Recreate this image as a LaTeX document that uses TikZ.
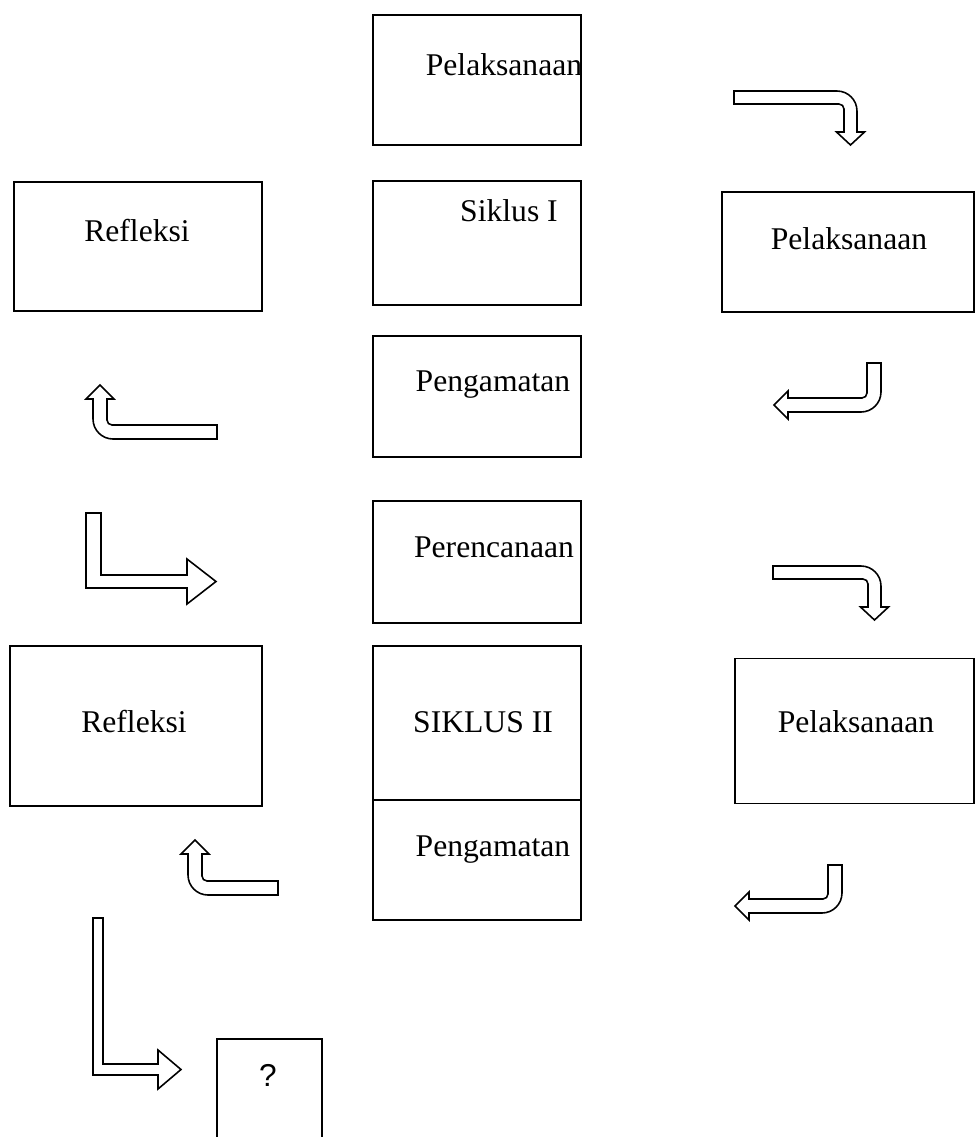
\documentclass[tikz,border=0pt]{standalone}
\usepackage{fontspec}
\setmainfont{Liberation Serif}
\newfontfamily\qfont{Liberation Sans}
\usepackage{tikz}
\usetikzlibrary{positioning}

\begin{document}
\begin{tikzpicture}[x=0.02cm, y=0.02cm,
        box/.style={draw, line width=1pt, fill=white, minimum width=4.16cm, inner sep=0pt},
        lbl/.style={font=\fontsize{18}{20}\selectfont, inner sep=0pt},
        blk/.style={draw, line width=0.9pt, line join=miter, fill=white}
      ]
        \useasboundingbox (0,0) rectangle (980,-1137);
        % cycle I
        \node[box, minimum height=2.6cm] (pelA) at (477,-80) {};
        \node[lbl] (tpelA) at (504,-65) {Pelaksanaan};
        \node[box, minimum width=4.96cm, minimum height=2.58cm] (refA) at (138,-246.5) {};
        \node[lbl] (trefA) at (137,-231) {Refleksi};
        \node[box, minimum height=2.48cm] (sikA) at (477,-243) {};
        \node[lbl] (tsikA) at (509,-211) {Siklus I};
        \node[box, minimum width=5.04cm, minimum height=2.4cm] (pelB) at (848,-252) {};
        \node[lbl] (tpelB) at (849,-239) {Pelaksanaan};
        \node[box, minimum height=2.42cm] (pengA) at (477,-396.5) {};
        \node[lbl] (tpengA) at (493,-385) {Pengamatan};
        \node[box, minimum height=2.44cm] (peren) at (477,-562) {};
        \node[lbl] (tperen) at (494,-547) {Perencanaan};
        % cycle II
        \node[box, minimum width=5.04cm, minimum height=3.2cm] (refB) at (136,-726) {};
        \node[lbl] (trefB) at (134,-722) {Refleksi};
        \node[box, minimum height=3.08cm] (sikB) at (477,-723) {};
        \node[lbl] (tsikB) at (483,-722) {SIKLUS II};
        \node[box, minimum width=4.78cm, minimum height=2.9cm] (pelC) at (854.5,-731) {};
        \node[lbl] (tpelC) at (856,-722) {Pelaksanaan};
        \node[box, minimum height=2.4cm] (pengB) at (477,-860) {};
        \node[lbl] (tpengB) at (493,-850) {Pengamatan};
        \node[box, minimum width=2.1cm, minimum height=2.4cm, anchor=north] (tanya) at (269.5,-1038) {};
        \node[font=\qfont\fontsize{18}{20}\selectfont, inner sep=0pt] (ttanya) at (268,-1075) {?};
        % block arrows
        \draw[blk] (734,-91) -- (837,-91) arc[start angle=90, end angle=0, radius=20] -- (857,-132) -- (864.5,-132) -- (850.5,-145) -- (836.5,-132) -- (844,-132) -- (844,-109) arc[start angle=0, end angle=90, radius=5] -- (734,-104) -- cycle;
        \draw[blk] (867,-363) -- (881,-363) -- (881,-392) arc[start angle=0, end angle=-90, radius=20] -- (788,-412) -- (788,-419) -- (774,-405) -- (788,-391) -- (788,-398) -- (862,-398) arc[start angle=-90, end angle=0, radius=5] -- cycle;
        \draw[blk] (217,-425) -- (112,-425) arc[start angle=-90, end angle=-180, radius=5] -- (107,-399) -- (114,-399) -- (100,-385) -- (86,-399) -- (93,-399) -- (93,-419) arc[start angle=180, end angle=270, radius=20] -- (217,-439) -- cycle;
        \draw[blk] (86,-513) -- (101,-513) -- (101,-575) -- (187,-575) -- (187,-559) -- (216,-581.5) -- (187,-604) -- (187,-588) -- (86,-588) -- cycle;
        \draw[blk] (773,-566) -- (861,-566) arc[start angle=90, end angle=0, radius=20] -- (881,-607) -- (888.5,-607) -- (874.5,-620) -- (860.5,-607) -- (868,-607) -- (868,-584) arc[start angle=0, end angle=90, radius=5] -- (773,-579) -- cycle;
        \draw[blk] (828,-865) -- (842,-865) -- (842,-893) arc[start angle=0, end angle=-90, radius=20] -- (749,-913) -- (749,-920) -- (735,-906) -- (749,-892) -- (749,-899) -- (823,-899) arc[start angle=-90, end angle=0, radius=5] -- cycle;
        \draw[blk] (278,-881) -- (207,-881) arc[start angle=-90, end angle=-180, radius=5] -- (202,-854) -- (209,-854) -- (195,-840) -- (181,-854) -- (188,-854) -- (188,-875) arc[start angle=180, end angle=270, radius=20] -- (278,-895) -- cycle;
        \draw[blk] (93,-918) -- (103,-918) -- (103,-1064) -- (158,-1064) -- (158,-1050) -- (181,-1069.5) -- (158,-1089) -- (158,-1075) -- (93,-1075) -- cycle;
      \end{tikzpicture}
\end{document}
